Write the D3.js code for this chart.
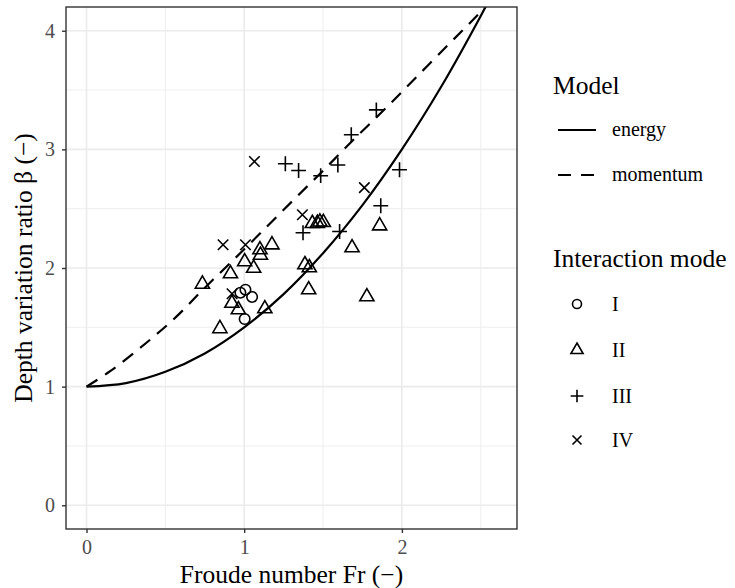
<!DOCTYPE html>
<html><head><meta charset="utf-8">
<script src="https://cdn.jsdelivr.net/npm/d3@7"></script>
<style>body{margin:0;background:#fff} text{font-family:"Liberation Serif","Times New Roman",serif}</style>
</head><body><svg id="c" width="735" height="588"></svg>
<script>
// ---- data ----
const xTicks = [0, 1, 2];
const yTicks = [0, 1, 2, 3, 4];
const xMinor = [0.5, 1.5, 2.5];
const yMinor = [0.5, 1.5, 2.5, 3.5];

const energyFr   = [0, 0.25, 0.5, 0.75, 1.0, 1.25, 1.5, 1.75, 2.0, 2.25, 2.5, 2.6];
const energyBeta = [1.0, 1.03, 1.125, 1.28, 1.5, 1.78, 2.125, 2.53, 3.0, 3.53, 4.125, 4.38];
const momentumFr   = [0, 0.15, 0.38, 0.57, 0.74, 0.91, 1.1, 1.31, 1.5, 1.7, 1.9, 2.1, 2.3, 2.45, 2.6];
const momentumBeta = [1.0, 1.13, 1.37, 1.59, 1.82, 2.04, 2.29, 2.57, 2.82, 3.09, 3.35, 3.62, 3.89, 4.09, 4.30];

const modeIFr   = [0.976, 1.008, 1.050, 1.003];
const modeIBeta = [1.792, 1.817, 1.756, 1.570];
const modeIIFr   = [0.735, 0.846, 0.913, 0.922, 0.963, 1.003, 1.060, 1.100, 1.103, 1.176, 1.131, 1.385, 1.413, 1.409, 1.432, 1.464, 1.480, 1.502, 1.684, 1.859, 1.778];
const modeIIBeta = [1.864, 1.489, 1.952, 1.703, 1.649, 2.053, 1.998, 2.154, 2.108, 2.196, 1.657, 2.028, 2.003, 1.817, 2.376, 2.377, 2.388, 2.384, 2.171, 2.356, 1.758];
const modeIIIFr   = [1.838, 1.679, 1.261, 1.345, 1.485, 1.594, 1.985, 1.866, 1.605, 1.373];
const modeIIIBeta = [3.333, 3.123, 2.879, 2.822, 2.778, 2.868, 2.828, 2.525, 2.308, 2.297];
const modeIVFr   = [1.065, 1.762, 0.866, 1.008, 0.923, 1.369];
const modeIVBeta = [2.898, 2.677, 2.196, 2.196, 1.783, 2.449];

const modeLabels = ["I", "II", "III", "IV"];
const modelLabels = ["energy", "momentum"];

// ---- layout ----
const svg = d3.select("#c");
const P = {l: 66, r: 517, t: 7, b: 529};
const x = d3.scaleLinear().domain([-0.13, 2.73]).range([P.l, P.r]);
const y = d3.scaleLinear().domain([-0.2, 4.2]).range([P.b, P.t]);
const TITLE = "25.5px", TXT = "20px";

svg.append("defs").append("clipPath").attr("id", "clip")
  .append("rect").attr("x", P.l).attr("y", P.t).attr("width", P.r - P.l).attr("height", P.b - P.t);

const grid = svg.append("g");
grid.selectAll(".vm").data(xMinor).join("line")
  .attr("x1", d => x(d)).attr("x2", d => x(d)).attr("y1", P.t).attr("y2", P.b)
  .attr("stroke", "#ebebeb").attr("stroke-width", 0.8);
grid.selectAll(".hm").data(yMinor).join("line")
  .attr("y1", d => y(d)).attr("y2", d => y(d)).attr("x1", P.l).attr("x2", P.r)
  .attr("stroke", "#ebebeb").attr("stroke-width", 0.8);
grid.selectAll(".vM").data(xTicks).join("line")
  .attr("x1", d => x(d)).attr("x2", d => x(d)).attr("y1", P.t).attr("y2", P.b)
  .attr("stroke", "#ebebeb").attr("stroke-width", 1.6);
grid.selectAll(".hM").data(yTicks).join("line")
  .attr("y1", d => y(d)).attr("y2", d => y(d)).attr("x1", P.l).attr("x2", P.r)
  .attr("stroke", "#ebebeb").attr("stroke-width", 1.6);

// curves
const line = d3.line().x(d => x(d[0])).y(d => y(d[1])).curve(d3.curveCatmullRom.alpha(0.5));
const curves = svg.append("g").attr("clip-path", "url(#clip)");
curves.append("path").datum(d3.zip(energyFr, energyBeta)).attr("d", line)
  .attr("fill", "none").attr("stroke", "#000").attr("stroke-width", 2.2);
curves.append("path").datum(d3.zip(momentumFr, momentumBeta)).attr("d", line)
  .attr("fill", "none").attr("stroke", "#000").attr("stroke-width", 2.2).attr("stroke-dasharray", "13,9");

// symbols (R pch conventions)
function shapePath(kind, s) {
  const R = 0.375 * s;
  if (kind === 0) return `M${R},0A${R},${R} 0 1,1 ${-R},0A${R},${R} 0 1,1 ${R},0Z`;
  if (kind === 1) { const r = 1.555 * R, xc = 1.347 * R, yc = 0.778 * R; return `M0,${-r}L${xc},${yc}L${-xc},${yc}Z`; }
  if (kind === 2) { const h = 1.414 * R; return `M${-h},0H${h}M0,${-h}V${h}`; }
  const h = R; return `M${-h},${-h}L${h},${h}M${-h},${h}L${h},${-h}`;
}
const groups = [
  d3.zip(modeIFr, modeIBeta), d3.zip(modeIIFr, modeIIBeta),
  d3.zip(modeIIIFr, modeIIIBeta), d3.zip(modeIVFr, modeIVBeta)
];
const pts = svg.append("g");
groups.forEach((g, k) => {
  pts.selectAll(null).data(g).join("path")
    .attr("transform", d => `translate(${x(d[0])},${y(d[1])})`)
    .attr("d", shapePath(k, 14))
    .attr("fill", "none").attr("stroke", "#000").attr("stroke-width", 1.6);
});

// panel border
svg.append("rect").attr("x", P.l).attr("y", P.t).attr("width", P.r - P.l).attr("height", P.b - P.t)
  .attr("fill", "none").attr("stroke", "#333").attr("stroke-width", 1.4);

// axes
const xAxis = svg.append("g").attr("transform", `translate(0,${P.b})`)
  .call(d3.axisBottom(x).tickValues(xTicks).tickFormat(d3.format("d")).tickSize(4).tickPadding(7));
const yAxis = svg.append("g").attr("transform", `translate(${P.l},0)`)
  .call(d3.axisLeft(y).tickValues(yTicks).tickFormat(d3.format("d")).tickSize(4).tickPadding(7));
[xAxis, yAxis].forEach(a => {
  a.select(".domain").remove();
  a.selectAll(".tick line").attr("stroke", "#333").attr("stroke-width", 1.4);
  a.selectAll(".tick text").attr("fill", "#4d4d4d").style("font-size", TXT)
    .style("font-family", "'Liberation Serif',serif");
});

svg.append("text").attr("x", (P.l + P.r) / 2).attr("y", 582.5).attr("text-anchor", "middle")
  .style("font-size", TITLE).text("Froude number Fr (\u2212)");
svg.append("text").attr("transform", `translate(32,${(P.t + P.b) / 2}) rotate(-90)`).attr("text-anchor", "middle")
  .style("font-size", TITLE).text("Depth variation ratio \u03B2 (\u2212)");

// legends
const lg = svg.append("g");
lg.append("text").attr("x", 553).attr("y", 94).style("font-size", TITLE).text("Model");
const modelRows = [130, 175];
modelLabels.forEach((lab, i) => {
  lg.append("line").attr("x1", 558).attr("x2", 596).attr("y1", modelRows[i]).attr("y2", modelRows[i])
    .attr("stroke", "#000").attr("stroke-width", 2.2).attr("stroke-dasharray", i ? "13,10" : null);
  lg.append("text").attr("x", 612).attr("y", modelRows[i] + 6).style("font-size", TXT).text(lab);
});
lg.append("text").attr("x", 553).attr("y", 267).style("font-size", TITLE).text("Interaction mode");
const modeRows = [304, 350, 396, 440];
modeLabels.forEach((lab, i) => {
  lg.append("path").attr("transform", `translate(577,${modeRows[i]})`).attr("d", shapePath(i, 12))
    .attr("fill", "none").attr("stroke", "#000").attr("stroke-width", 1.6);
  lg.append("text").attr("x", 612).attr("y", modeRows[i] + 7).style("font-size", TXT).text(lab);
});
</script></body></html>
